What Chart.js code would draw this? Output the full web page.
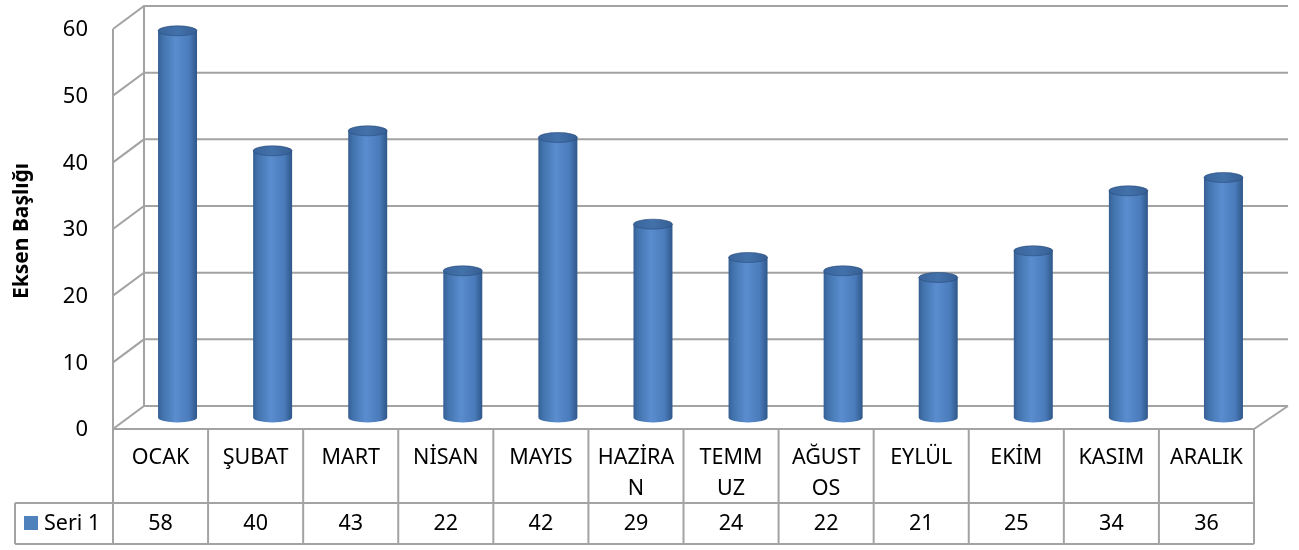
<!DOCTYPE html>
<html>
<head>
<meta charset="utf-8">
<script src="https://cdn.jsdelivr.net/npm/chart.js@4.4.1/dist/chart.umd.min.js"></script>
<style>
  body { margin: 0; background: #ffffff; }
  #wrap { width: 1299px; height: 550px; position: relative; }
</style>
</head>
<body>
<div id="wrap"><canvas id="chart"></canvas></div>
<script>
// chart data
const categories = ['OCAK', 'ŞUBAT', 'MART', 'NİSAN', 'MAYIS', ['HAZİRA', 'N'], ['TEMM', 'UZ'], ['AĞUST', 'OS'], 'EYLÜL', 'EKİM', 'KASIM', 'ARALIK'];
const seriesName = 'Seri 1';
const seriesValues = [58, 40, 43, 22, 42, 29, 24, 22, 21, 25, 34, 36];
const yTicks = [0, 10, 20, 30, 40, 50, 60];
const axisTitle = 'Eksen Başlığı';

const FONT = "'Noto Sans', 'Open Sans', sans-serif";
const GRID = '#a3a3a3';
const DEPTH_X = 32, DEPTH_Y = 23; // back wall offset

// walls + gridlines, drawn behind the cylinders
const wallsPlugin = {
  id: 'walls',
  beforeDatasetsDraw(chart) {
    const ctx = chart.ctx;
    const area = chart.chartArea;
    const y = chart.scales.y;
    const top = y.getPixelForValue(yTicks[yTicks.length - 1]);
    const zero = y.getPixelForValue(0);
    ctx.save();
    ctx.strokeStyle = GRID;
    ctx.lineWidth = 2;
    ctx.beginPath();
    ctx.moveTo(area.left, top);
    ctx.lineTo(area.left, zero);
    ctx.moveTo(area.left + DEPTH_X - 1, top - DEPTH_Y);
    ctx.lineTo(area.left + DEPTH_X - 1, zero - DEPTH_Y);
    yTicks.forEach(v => {
      const fy = y.getPixelForValue(v);
      ctx.moveTo(area.left, fy);
      ctx.lineTo(area.left + DEPTH_X - 1, fy - DEPTH_Y);
      ctx.lineTo(area.right + DEPTH_X + 2, fy - DEPTH_Y);
    });
    // floor right edge
    ctx.moveTo(area.right, zero);
    ctx.lineTo(area.right + DEPTH_X + 2, zero - DEPTH_Y);
    ctx.stroke();

    // tick labels
    ctx.fillStyle = '#000';
    ctx.font = '22px ' + FONT;
    ctx.textAlign = 'right';
    ctx.textBaseline = 'middle';
    yTicks.forEach(v => {
      ctx.fillText(String(v), area.left - 25, y.getPixelForValue(v) + 1);
    });

    // axis title
    ctx.save();
    ctx.translate(22, 231);
    ctx.rotate(-Math.PI / 2);
    ctx.font = 'bold 21px ' + FONT;
    ctx.textAlign = 'center';
    ctx.fillText(axisTitle, 0, 0);
    ctx.restore();
    ctx.restore();
  }
};

function drawCylinder(ctx, cx, topY, baseY, w) {
  const rx = w / 2, ry = 5;
  const g = ctx.createLinearGradient(cx - rx, 0, cx + rx, 0);
  g.addColorStop(0, '#365f93');
  g.addColorStop(0.12, '#4273ad');
  g.addColorStop(0.45, '#5a8dcf');
  g.addColorStop(0.8, '#4a7bbb');
  g.addColorStop(1, '#2f5789');
  ctx.fillStyle = g;
  ctx.beginPath();
  ctx.moveTo(cx - rx, topY);
  ctx.lineTo(cx - rx, baseY);
  ctx.ellipse(cx, baseY, rx, ry, 0, Math.PI, 0, true);
  ctx.lineTo(cx + rx, topY);
  ctx.closePath();
  ctx.fill();
  // top cap
  const tg = ctx.createLinearGradient(cx - rx, 0, cx + rx, 0);
  tg.addColorStop(0, '#3a659c');
  tg.addColorStop(0.5, '#4371aa');
  tg.addColorStop(1, '#365f94');
  ctx.fillStyle = tg;
  ctx.beginPath();
  ctx.ellipse(cx, topY, rx, ry, 0, 0, Math.PI * 2);
  ctx.fill();
  ctx.strokeStyle = 'rgba(40,75,120,0.6)';
  ctx.lineWidth = 1;
  ctx.stroke();
}

const cylinderPlugin = {
  id: 'cylinders',
  afterDatasetsDraw(chart) {
    const ctx = chart.ctx;
    const meta = chart.getDatasetMeta(0);
    const shiftX = DEPTH_X / 2 + 1, shiftY = DEPTH_Y / 2;
    ctx.save();
    meta.data.forEach(bar => {
      const p = bar.getProps(['x', 'y', 'base', 'width'], true);
      drawCylinder(ctx, p.x + shiftX, p.y - shiftY, p.base - shiftY, p.width);
    });
    ctx.restore();
  }
};

// data table under the plot
const tablePlugin = {
  id: 'dataTable',
  afterDraw(chart) {
    const ctx = chart.ctx;
    const area = chart.chartArea;
    const x = chart.scales.x;
    const n = categories.length;
    const colW = (area.right - area.left) / n;
    const top = area.bottom;
    const mid = top + 74;
    const bottom = mid + 41;
    const legendLeft = 15;
    ctx.save();
    ctx.strokeStyle = GRID;
    ctx.lineWidth = 2;
    ctx.beginPath();
    ctx.moveTo(area.left, top); ctx.lineTo(area.right, top);
    ctx.moveTo(legendLeft, mid); ctx.lineTo(area.right, mid);
    ctx.moveTo(legendLeft, bottom); ctx.lineTo(area.right, bottom);
    ctx.moveTo(legendLeft, mid); ctx.lineTo(legendLeft, bottom);
    for (let i = 0; i <= n; i++) {
      const cx = area.left + i * colW;
      ctx.moveTo(cx, top); ctx.lineTo(cx, bottom);
    }
    ctx.stroke();

    ctx.fillStyle = '#000';
    ctx.font = '21.5px ' + FONT;
    ctx.textAlign = 'center';
    ctx.textBaseline = 'middle';
    categories.forEach((c, i) => {
      const cx = x.getPixelForValue(i);
      const lines = Array.isArray(c) ? c : [c];
      lines.forEach((t, k) => ctx.fillText(t, cx, top + 29 + k * 31));
      ctx.fillText(String(seriesValues[i]), cx, mid + 21);
    });

    // legend key
    ctx.fillStyle = '#4f81bd';
    ctx.fillRect(24, mid + 13, 14, 14);
    ctx.fillStyle = '#000';
    ctx.textAlign = 'left';
    ctx.fillText(seriesName, 44, mid + 21);
    ctx.restore();
  }
};

new Chart(document.getElementById('chart'), {
  type: 'bar',
  data: {
    labels: categories,
    datasets: [{
      label: seriesName,
      data: seriesValues,
      backgroundColor: 'rgba(0,0,0,0)',
      borderWidth: 0,
      categoryPercentage: 1,
      barPercentage: 0.41
    }]
  },
  options: {
    responsive: true,
    maintainAspectRatio: false,
    devicePixelRatio: 1,
    animation: false,
    layout: { padding: { left: 113, right: 45, top: 29, bottom: 121 } },
    plugins: { legend: { display: false }, tooltip: { enabled: false } },
    scales: {
      x: { display: false },
      y: { display: false, min: 0, max: 60 }
    }
  },
  plugins: [wallsPlugin, cylinderPlugin, tablePlugin]
});
</script>
</body>
</html>
